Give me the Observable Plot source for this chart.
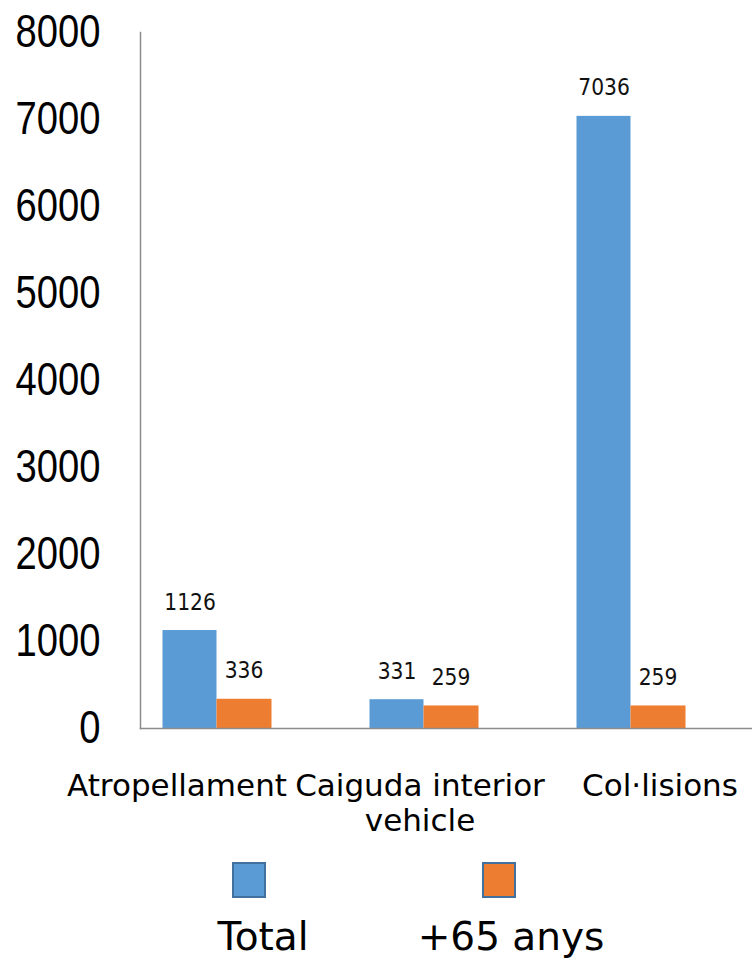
<!DOCTYPE html>
<html>
<head>
<meta charset="utf-8">
<script src="https://cdn.jsdelivr.net/npm/d3@7"></script>
<script src="https://cdn.jsdelivr.net/npm/@observablehq/plot@0.6"></script>
<style>
  body { margin: 0; background: #fff; }
  #chart { width: 752px; color: #000; }
  #legend { position: relative; width: 752px; height: 114px; font-family: "DejaVu Sans", sans-serif; }
  .item { position: absolute; top: 17px; width: 200px; display: flex; flex-direction: column; align-items: center; }
  .sw { width: 30px; height: 32px; border: 2px solid #41719C; }
  .lbl { font-size: 39px; line-height: 39px; margin-top: 19px; color: #000; }
</style>
</head>
<body>
<div id="chart"></div>
<div id="legend"></div>
<script>
const categories = ["Atropellament", "Caiguda interior\nvehicle", "Col·lisions"];
const totals = [1126, 331, 7036];
const over65 = [336, 259, 259];
const seriesNames = ["Total", "+65 anys"];
const seriesColors = ["#5B9BD5", "#ED7D31"];
const yTicks = [0, 1000, 2000, 3000, 4000, 5000, 6000, 7000, 8000];

const data = categories.map((c, i) => ({category: c, total: totals[i], over65: over65[i]}));

const labelFont = {fontFamily: "'DejaVu Sans Condensed', 'DejaVu Sans', sans-serif", fontSize: 22.5, fill: "#111"};
const catFont = {tickSize: 0, tickPadding: 43, fontSize: 31, fontFamily: "'DejaVu Sans', sans-serif", lineHeight: 1.13, label: null, fill: "#000"};
// label shifts (style only) to mirror the reference's label placement
const catShift = [-40, -4, 29];

const chart = Plot.plot({
  width: 752,
  height: 845,
  marginLeft: 140,
  marginRight: 0,
  marginTop: 32,
  marginBottom: 117,
  style: {background: "#fff", color: "#000", overflow: "visible"},
  x: {domain: categories, range: [112.5, 733.5], padding: 0, axis: null},
  y: {domain: [0, 8000], axis: null},
  marks: [
    Plot.barY(data, {x: "category", y: "total", fill: seriesColors[0], insetLeft: 49.5, insetRight: 103.5}),
    Plot.barY(data, {x: "category", y: "over65", fill: seriesColors[1], insetLeft: 103.5, insetRight: 48.5}),
    Plot.frame({anchor: "left", stroke: "#8c8c8c", strokeWidth: 1.5}),
    Plot.frame({anchor: "bottom", stroke: "#8c8c8c", strokeWidth: 1.5}),
    Plot.text(data, {x: "category", y: "total", text: d => String(d.total), dx: -27, dy: -21, lineAnchor: "bottom", ...labelFont}),
    Plot.text(data, {x: "category", y: "over65", text: d => String(d.over65), dx: 27, dy: -21, lineAnchor: "bottom", ...labelFont}),
    Plot.axisY({ticks: yTicks, tickFormat: d => String(d), tickSize: 0, tickPadding: 40, fontSize: 46, fontFamily: "'Liberation Sans', Arial, sans-serif", label: null, fill: "#000"}),
    ...categories.map((c, i) => Plot.axisX({ticks: [c], dx: catShift[i], ...catFont}))
  ]
});
document.getElementById("chart").appendChild(chart);

// condense the y tick labels horizontally (narrow face in the reference)
const k = 0.83;
d3.select(chart).selectAll("g")
  .filter(function () { return /y-axis/.test(this.getAttribute("aria-label") || ""); })
  .selectAll("text")
  .each(function () {
    const x = this.getAttribute("x");
    if (x !== null) this.setAttribute("x", (+x) / k);
    const t = this.getAttribute("transform") || "";
    this.setAttribute("transform", (t + ` scale(${k},1)`).trim());
  });

const legend = document.getElementById("legend");
const lefts = [163, 411];
const swShift = [-14, -12];
seriesNames.forEach((name, i) => {
  const item = document.createElement("div");
  item.className = "item";
  item.style.left = lefts[i] + "px";
  const sw = document.createElement("div");
  sw.className = "sw";
  sw.style.background = seriesColors[i];
  sw.style.marginLeft = swShift[i] * 2 + "px";
  const lbl = document.createElement("div");
  lbl.className = "lbl";
  lbl.textContent = name;
  item.appendChild(sw);
  item.appendChild(lbl);
  legend.appendChild(item);
});
</script>
</body>
</html>
